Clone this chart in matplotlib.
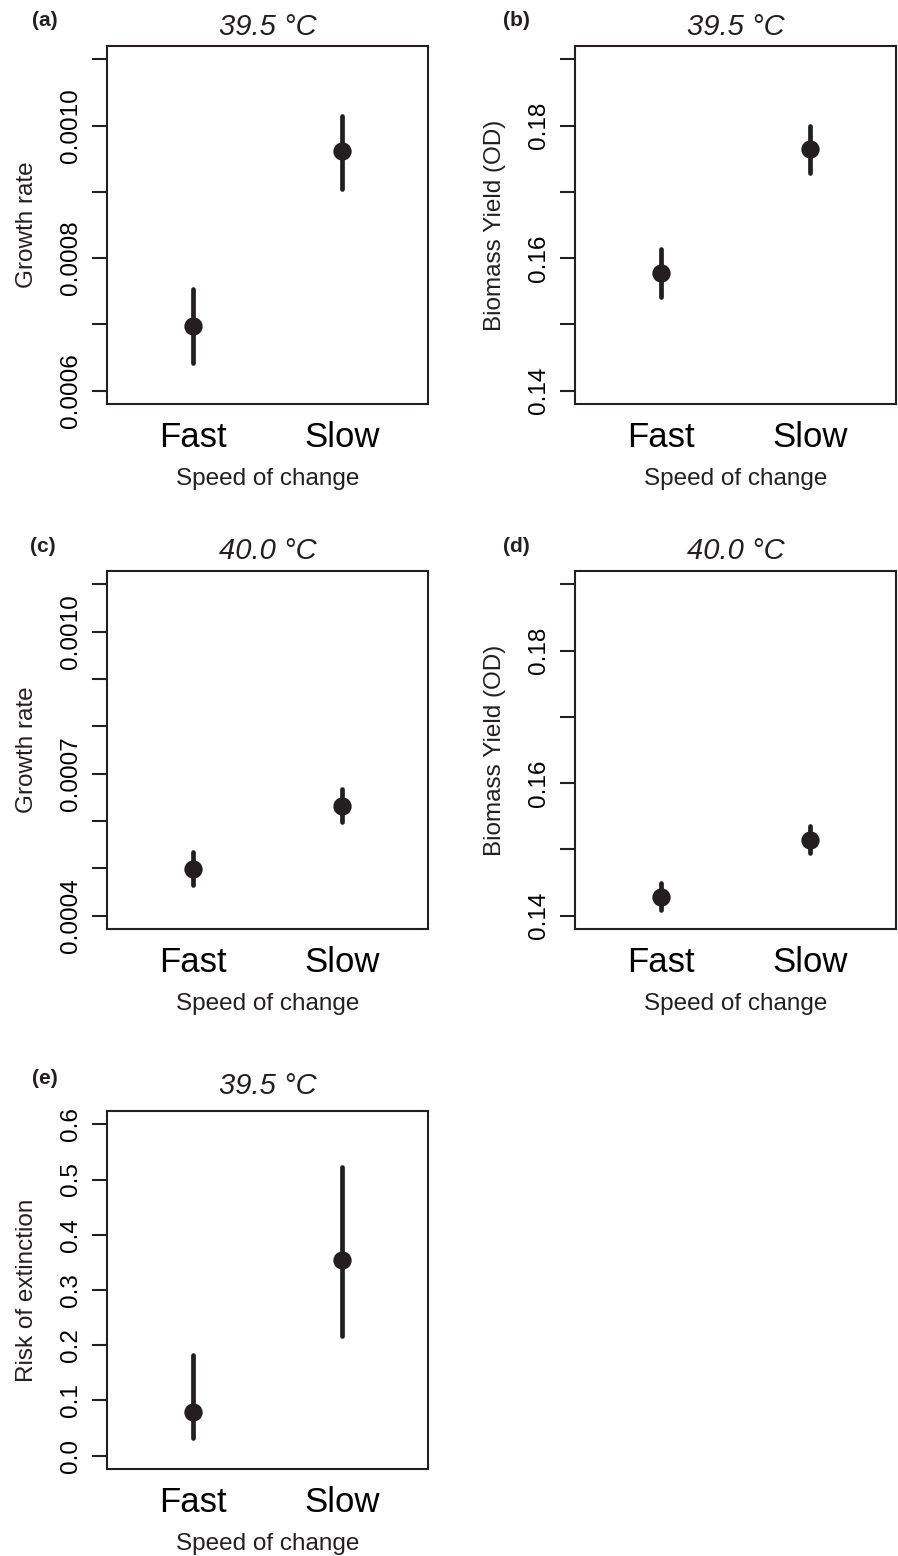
import matplotlib
matplotlib.use("Agg")
import matplotlib.pyplot as plt
import numpy as np

plt.rcParams['font.family'] = ['Liberation Sans', 'DejaVu Sans']

# ---- data ----
categories = ["Fast", "Slow"]

growth_395 = [0.000698, 0.000961]
growth_395_lo = [0.000642, 0.000905]
growth_395_hi = [0.000753, 0.001015]

yield_395 = [0.1577, 0.1764]
yield_395_lo = [0.1542, 0.1729]
yield_395_hi = [0.1614, 0.1799]

growth_400 = [0.000499, 0.000632]
growth_400_lo = [0.000464, 0.000598]
growth_400_hi = [0.000534, 0.000668]

yield_400 = [0.1429, 0.1515]
yield_400_lo = [0.1408, 0.1494]
yield_400_hi = [0.1450, 0.1536]

extinct_395 = [0.080, 0.355]
extinct_395_lo = [0.033, 0.217]
extinct_395_hi = [0.183, 0.522]

titles = ["39.5 °C", "39.5 °C", "40.0 °C", "40.0 °C", "39.5 °C"]
panel_tags = ["(a)", "(b)", "(c)", "(d)", "(e)"]
ylabels = ["Growth rate", "Biomass Yield (OD)", "Growth rate",
           "Biomass Yield (OD)", "Risk of extinction"]

ticks_a = [0.0006, 0.0007, 0.0008, 0.0009, 0.0010, 0.0011]
labels_a = ["0.0006", "", "0.0008", "", "0.0010", ""]
ticks_b = [0.14, 0.15, 0.16, 0.17, 0.18, 0.19]
labels_b = ["0.14", "", "0.16", "", "0.18", ""]
ticks_c = [0.0004, 0.0005, 0.0006, 0.0007, 0.0008, 0.0009, 0.0010, 0.0011]
labels_c = ["0.0004", "", "", "0.0007", "", "", "0.0010", ""]
ticks_d = [0.14, 0.15, 0.16, 0.17, 0.18, 0.19]
labels_d = ["0.14", "", "0.16", "", "0.18", ""]
ticks_e = [0.0, 0.1, 0.2, 0.3, 0.4, 0.5, 0.6]
labels_e = ["0.0", "0.1", "0.2", "0.3", "0.4", "0.5", "0.6"]

# ---- layout ----
W, H = 898, 1556
fig = plt.figure(figsize=(W / 100, H / 100), dpi=100)
COL = '#231f20'

def rect(l, r, t, b):
    return [l / W, 1 - b / H, (r - l) / W, (b - t) / H]

panels = [
    (rect(107, 428, 46, 404), growth_395, growth_395_lo, growth_395_hi, ticks_a, labels_a, (0.0006, 0.0011), 8.0, (32, 21)),
    (rect(575, 896, 46, 404), yield_395, yield_395_lo, yield_395_hi, ticks_b, labels_b, (0.14, 0.19), 8.0, (503, 21)),
    (rect(107, 428, 571, 929), growth_400, growth_400_lo, growth_400_hi, ticks_c, labels_c, (0.0004, 0.0011), 8.5, (30, 547)),
    (rect(575, 896, 571, 929), yield_400, yield_400_lo, yield_400_hi, ticks_d, labels_d, (0.14, 0.19), 8.5, (503, 547)),
    (rect(107, 428, 1111, 1469), extinct_395, extinct_395_lo, extinct_395_hi, ticks_e, labels_e, (0.0, 0.6), 12.0, (32, 1079)),
]

for i, (r, mid, lo, hi, tks, tls, (y0, y1), tpad, (tx, ty)) in enumerate(panels):
    ax = fig.add_axes(r)
    x = np.arange(1, len(categories) + 1)
    ax.vlines(x, lo, hi, colors=COL, linewidth=3.4, capstyle='round')
    ax.plot(x, mid, 'o', color=COL, markersize=13.2, markeredgewidth=0)
    span = x[-1] - x[0] + 1
    ax.set_xlim(0.5 - 0.04 * (span), x[-1] + 0.5 + 0.04 * (span))
    dy = (y1 - y0) * 0.04
    ax.set_ylim(y0 - dy, y1 + dy)
    ax.set_xticks(x)
    ax.set_xticklabels(categories, fontsize=25)
    ax.tick_params(axis='x', length=0, pad=12)
    ax.set_yticks(tks)
    ax.set_yticklabels(tls, rotation=90, va='center', fontsize=17.5)
    ax.tick_params(axis='y', length=10.8, width=1.5, pad=7.5, color=COL)
    for s in ax.spines.values():
        s.set_linewidth(1.5)
        s.set_color(COL)
    ax.set_title(titles[i], fontsize=21, fontstyle='italic', pad=tpad, color=COL)
    ax.set_ylabel(ylabels[i], fontsize=17.5, va='center', color=COL)
    ax.yaxis.set_label_coords(-0.248, 0.5)
    ax.set_xlabel("Speed of change", fontsize=17.5, va='center', color=COL)
    ax.xaxis.set_label_coords(0.5, -0.2095)
    fig.text(tx / W, 1 - ty / H, panel_tags[i], fontsize=15, fontweight='bold',
             ha='left', va='center', color=COL)

fig.savefig("out.png", dpi=100, facecolor='white')
